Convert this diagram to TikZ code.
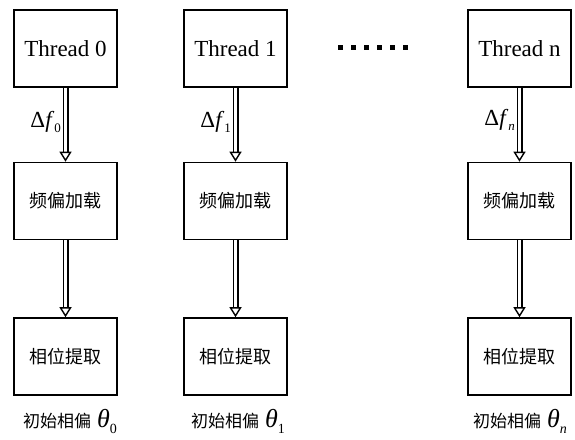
\documentclass[tikz,border=0pt]{standalone}
\usepackage{fontspec}
\setmainfont{Liberation Serif}
\newfontfamily\tms{Liberation Serif}
\newfontfamily\cjk{Noto Sans CJK SC}
\usetikzlibrary{arrows.meta}
\begin{document}
\begin{tikzpicture}[x=1pt,y=-1pt,
  box/.style={draw, line width=1.6pt, minimum width=103pt, minimum height=77pt, inner sep=0pt},
  thr/.style={box, font=\tms\fontsize{23}{27}\selectfont},
  cnbox/.style={box, font=\cjk\fontsize{18}{22}\selectfont},
  conn/.style={double, double distance=3pt, line width=1.5pt,
    -{Triangle[open, length=10pt, width=12pt, line width=1.4pt]}},
  dlab/.style={anchor=east, inner sep=0pt, font=\tms\fontsize{23}{25}\selectfont},
  tlab/.style={inner sep=0pt, anchor=base},
  dotsq/.style={fill=black, minimum size=5pt, inner sep=0pt}
]
\useasboundingbox (0,0) rectangle (575,439);

\node[thr] (t0) at (65.5,48.5) {Thread 0};
\node[thr] (t1) at (235.5,48.5) {Thread 1};
\node[thr] (tn) at (519.5,48.5) {Thread n};

\node[cnbox] (f0) at (65.5,201) {频偏加载};
\node[cnbox] (f1) at (235.5,201) {频偏加载};
\node[cnbox] (fn) at (519.5,201) {频偏加载};

\node[cnbox] (p0) at (65.5,356.5) {相位提取};
\node[cnbox] (p1) at (235.5,356.5) {相位提取};
\node[cnbox] (pn) at (519.5,356.5) {相位提取};

\foreach \a/\b in {t0/f0,t1/f1,tn/fn,f0/p0,f1/p1,fn/pn}
  \draw[conn] (\a.south) -- (\b.north);

\node[dlab] (d0) at (61,122) {Δ\textit{f}\raisebox{-5pt}{\fontsize{13}{13}\selectfont 0}};
\node[dlab] (d1) at (231,122) {Δ\textit{f}\raisebox{-5pt}{\fontsize{13}{13}\selectfont 1}};
\node[dlab] (dn) at (515,120) {Δ\textit{f}\raisebox{-5pt}{\fontsize{13}{13}\selectfont\textit{n}}};

\node[tlab] (i0) at (70,427) {{\cjk\fontsize{17}{20}\selectfont 初始相偏}\hspace{6pt}{\tms\fontsize{26}{28}\selectfont\textit{θ}}\raisebox{-6pt}{\tms\fontsize{14}{14}\selectfont 0}};
\node[tlab] (i1) at (238,427) {{\cjk\fontsize{17}{20}\selectfont 初始相偏}\hspace{6pt}{\tms\fontsize{26}{28}\selectfont\textit{θ}}\raisebox{-6pt}{\tms\fontsize{14}{14}\selectfont 1}};
\node[tlab] (in) at (520,427) {{\cjk\fontsize{17}{20}\selectfont 初始相偏}\hspace{6pt}{\tms\fontsize{26}{28}\selectfont\textit{θ}}\raisebox{-6pt}{\tms\fontsize{14}{14}\selectfont\textit{n}}};

\foreach \i in {0,...,5}
  \node[dotsq] (dot\i) at (340.5+13*\i,47) {};
\end{tikzpicture}
\end{document}
